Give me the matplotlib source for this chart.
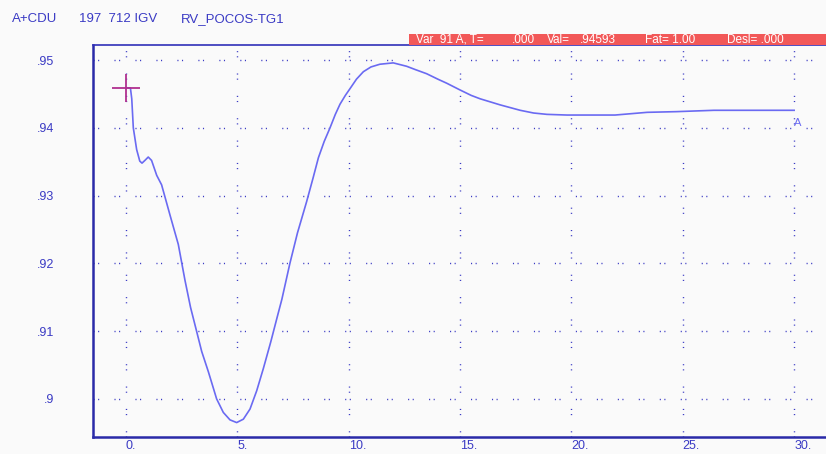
import matplotlib
matplotlib.use('Agg')
import matplotlib.pyplot as plt

plt.rcParams['font.family'] = ['Liberation Sans', 'DejaVu Sans']
plt.rcParams['lines.scale_dashes'] = False

# curve (time in s, value)
t = [0.0, 0.2, 0.26, 0.33, 0.48, 0.62, 0.72, 0.85, 1.0, 1.15, 1.38, 1.6,
     1.98, 2.35, 2.65, 2.9, 3.17, 3.4, 3.7, 4.07, 4.37, 4.67, 4.97, 5.27,
     5.57, 5.87, 6.17, 6.5, 6.8, 7.0, 7.36, 7.7, 8.11, 8.4, 8.64, 8.9, 9.16,
     9.4, 9.61, 9.85, 10.06, 10.35, 10.66, 11.0, 11.4, 12.0, 12.6, 13.0,
     13.5, 14.0, 14.4, 15.0, 15.5, 15.9, 16.4, 16.8, 17.7, 18.3, 18.9, 19.8,
     21.96, 23.4, 24.7, 26.4, 30.0]
val = [0.94593, 0.9459, 0.9443, 0.9400, 0.9368, 0.9351, 0.9348, 0.9352,
       0.9357, 0.9352, 0.9330, 0.9316, 0.9271, 0.9228, 0.9175, 0.9135,
       0.9100, 0.9070, 0.9040, 0.9000, 0.8980, 0.8969, 0.8965, 0.8970,
       0.8985, 0.9012, 0.9045, 0.9084, 0.9122, 0.9147, 0.9200, 0.9245,
       0.9291, 0.9326, 0.9356, 0.9380, 0.9400, 0.9420, 0.9435, 0.9448,
       0.9458, 0.9472, 0.9483, 0.9490, 0.9494, 0.9496, 0.9491, 0.9486,
       0.9480, 0.9472, 0.9466, 0.9456, 0.9448, 0.9443, 0.9438, 0.9434,
       0.9426, 0.9422, 0.9420, 0.9419, 0.9419, 0.9423, 0.9424, 0.9426,
       0.9426]

xticks = [0, 5, 10, 15, 20, 25, 30]
xlabels = ['0.', '5.', '10.', '15.', '20.', '25.', '30.']
yticks = [0.90, 0.91, 0.92, 0.93, 0.94, 0.95]
ylabels = ['.9', '.91', '.92', '.93', '.94', '.95']

cursor_t = 0.0
cursor_val = 0.94593

blue = '#3a3ac4'
bg = '#fafafa'

fig = plt.figure(figsize=(8.26, 4.54), dpi=100, facecolor=bg)
ax = fig.add_axes([93 / 826, 17 / 454, 733 / 826, 392 / 454], facecolor=bg)

ax.set_xlim(-1.48, 31.43)
ax.set_ylim(0.89437, 0.95224)

# dotted grid like the old plotting tool
for x in xticks:
    ax.axvline(x, color=blue, lw=1.0, ls=(0, (0.8, 2.9, 0.8, 11.6)), zorder=1)
for y in yticks:
    ax.axhline(y, color=blue, lw=1.0, ls=(0, (0.8, 2.5, 0.8, 11.0)), zorder=1)

ax.plot(t, val, color='#6a6af2', lw=1.2, zorder=3)
ax.annotate('A', xy=(t[-1], val[-1]), xytext=(0, -9), textcoords='offset points',
            color='#6a6af2', fontsize=8, ha='left', va='center')

# cursor
ax.plot([cursor_t], [cursor_val], marker='+', ms=20, mew=1.3, color='#b0308f',
        zorder=4)

ax.set_xticks(xticks)
ax.set_xticklabels(xlabels)
ax.set_yticks(yticks)
ax.set_yticklabels(ylabels)
ax.tick_params(axis='both', length=0, colors=blue, labelsize=9)
ax.tick_params(axis='y', pad=28)
ax.tick_params(axis='x', pad=2)
for lab in ax.get_xticklabels():
    lab.set_ha('left')

for side in ['left', 'bottom']:
    ax.spines[side].set_color('#2a2aa8')
    ax.spines[side].set_linewidth(1.8)
ax.spines['top'].set_color('#3030b8')
ax.spines['top'].set_linewidth(1.2)
ax.spines['right'].set_visible(False)

# header
fig.text(12 / 826, 1 - 19 / 454, 'A+CDU', color=blue, fontsize=9.5, va='center')
fig.text(79 / 826, 1 - 19 / 454, '197  712 IGV', color=blue, fontsize=9.5, va='center')
fig.text(181 / 826, 1 - 19 / 454, 'RV_POCOS-TG1', color=blue, fontsize=9.5, va='center')

# red status bar
fig.patches.append(plt.Rectangle((409 / 826, 1 - 45 / 454), 417 / 826, 11 / 454,
                                 transform=fig.transFigure, facecolor='#f25858',
                                 edgecolor='none', zorder=0))
status = [(416, 'Var  91 A, T='), (512, '.000'), (547, 'Val='), (580, '.94593'),
          (645, 'Fat= 1.00'), (727, 'Desl= .000')]
for px, s in status:
    fig.text(px / 826, 1 - 40 / 454, s, color='white', fontsize=8.5, va='center')

fig.savefig('out.png', dpi=100, facecolor=bg)
